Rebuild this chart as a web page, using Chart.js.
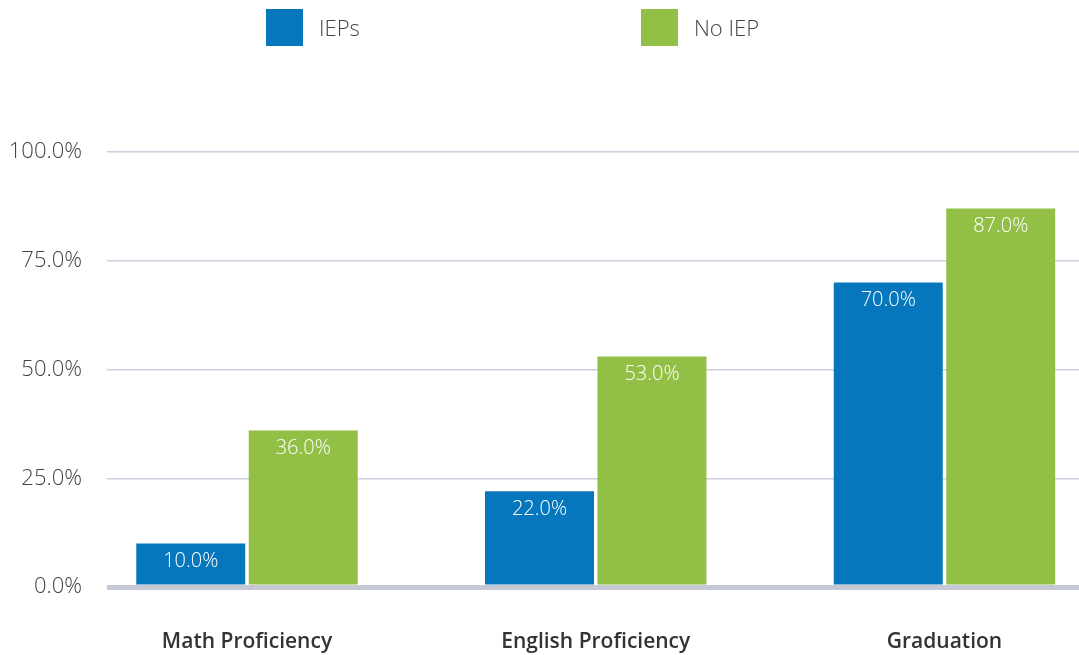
<!DOCTYPE html>
<html>
<head>
<meta charset="utf-8">
<script src="https://cdn.jsdelivr.net/npm/chart.js@4"></script>
<style>
  html, body { margin: 0; padding: 0; background: #fff; }
  #wrap { position: relative; width: 1079px; height: 655px; }
  #legend { position: absolute; top: 0; left: 0; width: 1079px; height: 60px; font-family: 'Open Sans', sans-serif; font-weight: 300; font-size: 22px; color: #444; }
  .item { position: absolute; top: 9px; height: 37px; line-height: 36px; }
  .box { position: absolute; top: 0; left: 0; width: 37px; height: 37px; }
  .txt { position: absolute; top: 0; left: 53px; white-space: nowrap; }
</style>
</head>
<body>
<div id="wrap">
  <canvas id="chart" width="1079" height="655"></canvas>
  <div id="legend"></div>
</div>
<script>
const categories = ['Math Proficiency', 'English Proficiency', 'Graduation']
const seriesNames = ['IEPs', 'No IEP']
const iepValues = [10, 22, 70]
const noIepValues = [36, 53, 87]
const yTicks = [0, 25, 50, 75, 100]

const colors = ['#0777bd', '#92c046']
const legendLeft = [266, 641]

// legend drawn as html so the two items can sit far apart like the original
const legend = document.getElementById('legend')
seriesNames.forEach((name, i) => {
  const item = document.createElement('div')
  item.className = 'item'
  item.style.left = legendLeft[i] + 'px'
  item.innerHTML = `<div class="box" style="background:${colors[i]}"></div><div class="txt">${name}</div>`
  legend.appendChild(item)
})

const toPoints = (values) => values.map((v, i) => ({ x: i, y: v }))

const valueLabels = {
  id: 'valueLabels',
  afterDatasetsDraw(chart) {
    const { ctx } = chart
    ctx.save()
    ctx.fillStyle = '#fff'
    ctx.font = '300 20px "Open Sans", sans-serif'
    ctx.textAlign = 'center'
    ctx.textBaseline = 'middle'
    chart.data.datasets.forEach((ds, di) => {
      chart.getDatasetMeta(di).data.forEach((bar, i) => {
        ctx.fillText(ds.data[i].y.toFixed(1) + '%', bar.x, bar.y + 18)
      })
    })
    ctx.restore()
  },
}

new Chart(document.getElementById('chart'), {
  type: 'bar',
  data: {
    datasets: [
      { label: seriesNames[0], data: toPoints(iepValues), backgroundColor: colors[0] },
      { label: seriesNames[1], data: toPoints(noIepValues), backgroundColor: colors[1] },
    ],
  },
  options: {
    responsive: false,
    animation: false,
    categoryPercentage: 0.645,
    barPercentage: 0.969,
    layout: { padding: { top: 152, bottom: 0, left: 0, right: 0 } },
    plugins: {
      legend: { display: false },
      tooltip: { enabled: false },
    },
    scales: {
      x: {
        type: 'linear',
        offset: false,
        min: -0.4014,
        max: 2.3857,
        afterFit: (scale) => { scale.height = 68 },
        grid: { display: false, drawTicks: false, offset: false },
        border: { display: false },
        ticks: {
          stepSize: 1,
          includeBounds: false,
          maxRotation: 0,
          autoSkip: false,
          padding: 42,
          color: '#333',
          font: { family: 'Open Sans', size: 21, weight: 600 },
          callback: (v) => (Number.isInteger(v) ? categories[v] || '' : ''),
        },
      },
      y: {
        min: 0,
        max: 100,
        afterFit: (scale) => { scale.width = 107 },
        afterBuildTicks: (scale) => { scale.ticks = yTicks.map((v) => ({ value: v })) },
        grid: {
          drawTicks: false,
          color: (c) => (c.tick && c.tick.value === 0 ? '#c6c9d5' : '#cdd0dd'),
          lineWidth: (c) => (c.tick && c.tick.value === 0 ? 5 : 1.5),
        },
        border: { display: false },
        ticks: {
          padding: 25,
          color: '#444',
          font: { family: 'Open Sans', size: 22, weight: 300 },
          callback: (v) => v.toFixed(1) + '%',
        },
      },
    },
  },
  plugins: [valueLabels],
})
</script>
</body>
</html>
